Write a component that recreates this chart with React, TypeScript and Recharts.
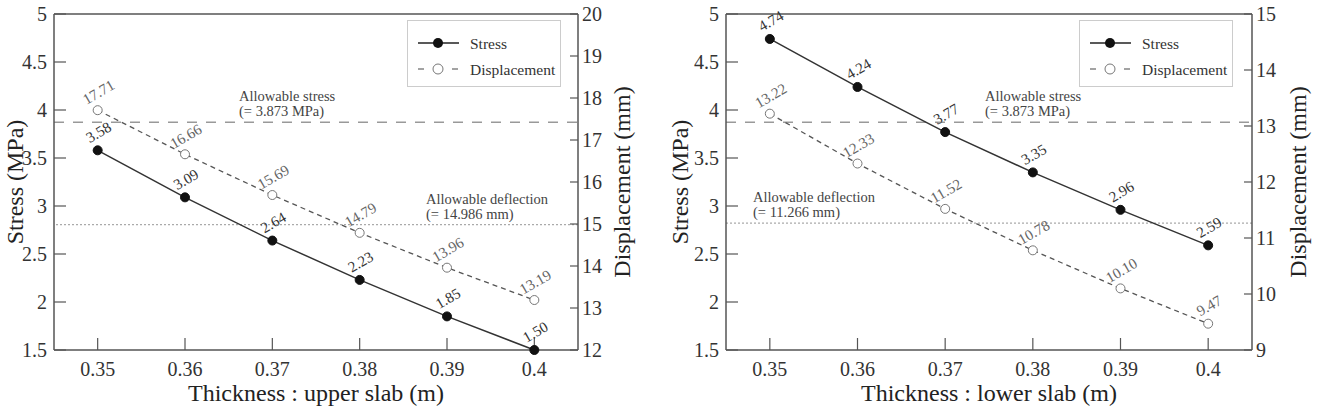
import { LineChart, Line, XAxis, YAxis, ReferenceLine, LabelList, Legend } from "recharts";

const FONT = "'Liberation Serif', 'Times New Roman', serif";

// thickness of the slab (m)
const thickness = [0.35, 0.36, 0.37, 0.38, 0.39, 0.4];

// upper slab
const upperStress = [3.58, 3.09, 2.64, 2.23, 1.85, 1.5];
const upperDisp = [17.71, 16.66, 15.69, 14.79, 13.96, 13.19];

// lower slab
const lowerStress = [4.74, 4.24, 3.77, 3.35, 2.96, 2.59];
const lowerDisp = [13.22, 12.33, 11.52, 10.78, 10.1, 9.47];

const stressTicks = [1.5, 2, 2.5, 3, 3.5, 4, 4.5, 5];
const upperDispTicks = [12, 13, 14, 15, 16, 17, 18, 19, 20];
const lowerDispTicks = [9, 10, 11, 12, 13, 14, 15];

const allowStress = 3.873;
const upperAllowDefl = 14.986;
const lowerAllowDefl = 11.266;

const seriesNames = ["Stress", "Displacement"];

const AXIS = "#555";

function rotLabel(color: string) {
  return (p: any) => {
    const x = p.x ?? p.viewBox?.x;
    const y = p.y ?? p.viewBox?.y;
    if (x == null || y == null) return null;
    const lx = x + 1;
    const ly = y - 18;
    return (
      <text
        x={lx}
        y={ly}
        transform={`rotate(-30 ${lx} ${ly})`}
        textAnchor="middle"
        dominantBaseline="central"
        fontSize={15}
        fill={color}
        fontFamily={FONT}
      >
        {Number(p.value).toFixed(2)}
      </text>
    );
  };
}

function vTitle(text: string, dx: number) {
  return (p: any) => {
    const vb = p.viewBox;
    const cx = vb.x + dx;
    const cy = vb.y + vb.height / 2;
    return (
      <text
        x={cx}
        y={cy}
        transform={`rotate(-90 ${cx} ${cy})`}
        textAnchor="middle"
        dominantBaseline="central"
        fontSize={24}
        fill="#222"
        fontFamily={FONT}
      >
        {text}
      </text>
    );
  };
}

function hTitle(text: string) {
  return (p: any) => {
    const vb = p.viewBox;
    return (
      <text
        x={vb.x + vb.width / 2}
        y={vb.y + 43}
        textAnchor="middle"
        dominantBaseline="central"
        fontSize={24}
        fill="#222"
        fontFamily={FONT}
      >
        {text}
      </text>
    );
  };
}

function note(lines: string[], dx: number) {
  return (p: any) => {
    const vb = p.viewBox;
    const y = vb.y;
    return (
      <g>
        <text x={vb.x + dx} y={y - 26} dominantBaseline="central" fontSize={14.5} fill="#444" fontFamily={FONT}>
          {lines[0]}
        </text>
        <text x={vb.x + dx} y={y - 11} dominantBaseline="central" fontSize={14.5} fill="#444" fontFamily={FONT}>
          {lines[1]}
        </text>
      </g>
    );
  };
}

function LegendBox() {
  return (
    <svg width={154} height={67} style={{ display: "block" }}>
      <rect x={0.5} y={0.5} width={153} height={66} fill="#fff" stroke="#ccc" />
      <line x1={11} x2={52} y1={23} y2={23} stroke="#222" strokeWidth={1.5} />
      <circle cx={31} cy={23} r={5} fill="#111" />
      <text x={63} y={23} dominantBaseline="central" fontSize={15.5} fill="#333" fontFamily={FONT}>
        {seriesNames[0]}
      </text>
      <line x1={11} x2={17} y1={49} y2={49} stroke="#666" strokeWidth={1.2} />
      <line x1={45} x2={51} y1={49} y2={49} stroke="#666" strokeWidth={1.2} />
      <circle cx={31} cy={49} r={5} fill="#fff" stroke="#777" />
      <text x={63} y={49} dominantBaseline="central" fontSize={15.5} fill="#333" fontFamily={FONT}>
        {seriesNames[1]}
      </text>
    </svg>
  );
}

interface PanelProps {
  stress: number[];
  disp: number[];
  dispTicks: number[];
  allowDefl: number;
  xTitle: string;
  width: number;
  leftW: number;
  rightW: number;
  stressNoteX: number;
  deflNoteX: number;
  legendLeft: number;
  titleLeftDx: number;
  titleRightDx: number;
}

function Panel(props: PanelProps) {
  const data = thickness.map((t, i) => ({ t, stress: props.stress[i], disp: props.disp[i] }));
  const dt = props.dispTicks;
  return (
    <LineChart
      width={props.width}
      height={408}
      data={data}
      margin={{ top: 14, right: 0, left: 0, bottom: 0 }}
      style={{ fontFamily: FONT }}
    >
      <XAxis
        dataKey="t"
        type="number"
        domain={[0.345, 0.405]}
        ticks={thickness}
        interval={0}
        allowDataOverflow
        height={58}
        stroke={AXIS}
        axisLine={{ stroke: AXIS, strokeWidth: 1.5 }}
        tickLine={{ stroke: AXIS, strokeWidth: 1.2 }}
        tickSize={-12}
        tickMargin={24}
        tick={{ fontSize: 20, fill: "#333", fontFamily: FONT }}
        label={{ content: hTitle(props.xTitle) }}
      />
      <YAxis
        yAxisId="left"
        type="number"
        domain={[1.5, 5]}
        ticks={stressTicks}
        interval={0}
        width={props.leftW}
        axisLine={{ stroke: AXIS, strokeWidth: 1.5 }}
        tickLine={{ stroke: AXIS, strokeWidth: 1.2 }}
        tickSize={-12}
        tickMargin={19}
        tick={{ fontSize: 20, fill: "#333", fontFamily: FONT }}
        label={{ content: vTitle("Stress (MPa)", props.titleLeftDx) }}
      />
      <YAxis
        yAxisId="right"
        orientation="right"
        type="number"
        domain={[dt[0], dt[dt.length - 1]]}
        ticks={dt}
        interval={0}
        width={props.rightW}
        axisLine={{ stroke: AXIS, strokeWidth: 1.5 }}
        tickLine={{ stroke: AXIS, strokeWidth: 1.2 }}
        tickSize={-8}
        tickMargin={12}
        tick={{ fontSize: 20, fill: "#333", fontFamily: FONT }}
        label={{ content: vTitle("Displacement (mm)", props.titleRightDx) }}
      />
      <ReferenceLine yAxisId="left" y={5} stroke={AXIS} strokeWidth={1.5} />
      <ReferenceLine
        yAxisId="left"
        y={allowStress}
        stroke="#999"
        strokeWidth={1.5}
        strokeDasharray="10 9"
        label={{ content: note(["Allowable stress", `(= ${allowStress} MPa)`], props.stressNoteX) }}
      />
      <ReferenceLine
        yAxisId="right"
        y={props.allowDefl}
        stroke="#aaa"
        strokeWidth={1.2}
        strokeDasharray="2 2"
        label={{ content: note(["Allowable deflection", `(= ${props.allowDefl} mm)`], props.deflNoteX) }}
      />
      <Line
        yAxisId="right"
        dataKey="disp"
        name={seriesNames[1]}
        stroke="#555"
        strokeWidth={1.3}
        strokeDasharray="5 4"
        dot={{ r: 4.5, fill: "#fff", stroke: "#777", strokeWidth: 1, strokeDasharray: "" }}
        activeDot={false}
        isAnimationActive={false}
      >
        <LabelList dataKey="disp" content={rotLabel("#666")} />
      </Line>
      <Line
        yAxisId="left"
        dataKey="stress"
        name={seriesNames[0]}
        stroke="#333"
        strokeWidth={1.5}
        dot={{ r: 4.5, fill: "#111", stroke: "#111", strokeWidth: 1 }}
        activeDot={false}
        isAnimationActive={false}
      >
        <LabelList dataKey="stress" content={rotLabel("#333")} />
      </Line>
      <Legend
        verticalAlign="middle"
        align="center"
        layout="horizontal"
        content={() => <LegendBox />}
        wrapperStyle={{ left: props.legendLeft, top: 20, width: 154, height: 67 }}
      />
    </LineChart>
  );
}

export default function App() {
  return (
    <div style={{ position: "absolute", left: 0, top: 0, width: 1317, height: 408, background: "#fff", display: "flex" }}>
      <Panel
        stress={upperStress}
        disp={upperDisp}
        dispTicks={upperDispTicks}
        allowDefl={upperAllowDefl}
        xTitle="Thickness : upper slab (m)"
        width={660}
        leftW={54}
        rightW={82}
        stressNoteX={185}
        deflNoteX={372}
        legendLeft={407}
        titleLeftDx={15}
        titleRightDx={44}
      />
      <Panel
        stress={lowerStress}
        disp={lowerDisp}
        dispTicks={lowerDispTicks}
        allowDefl={lowerAllowDefl}
        xTitle="Thickness : lower slab (m)"
        width={657}
        leftW={66}
        rightW={65}
        stressNoteX={259}
        deflNoteX={27}
        legendLeft={419}
        titleLeftDx={20}
        titleRightDx={46}
      />
    </div>
  );
}
